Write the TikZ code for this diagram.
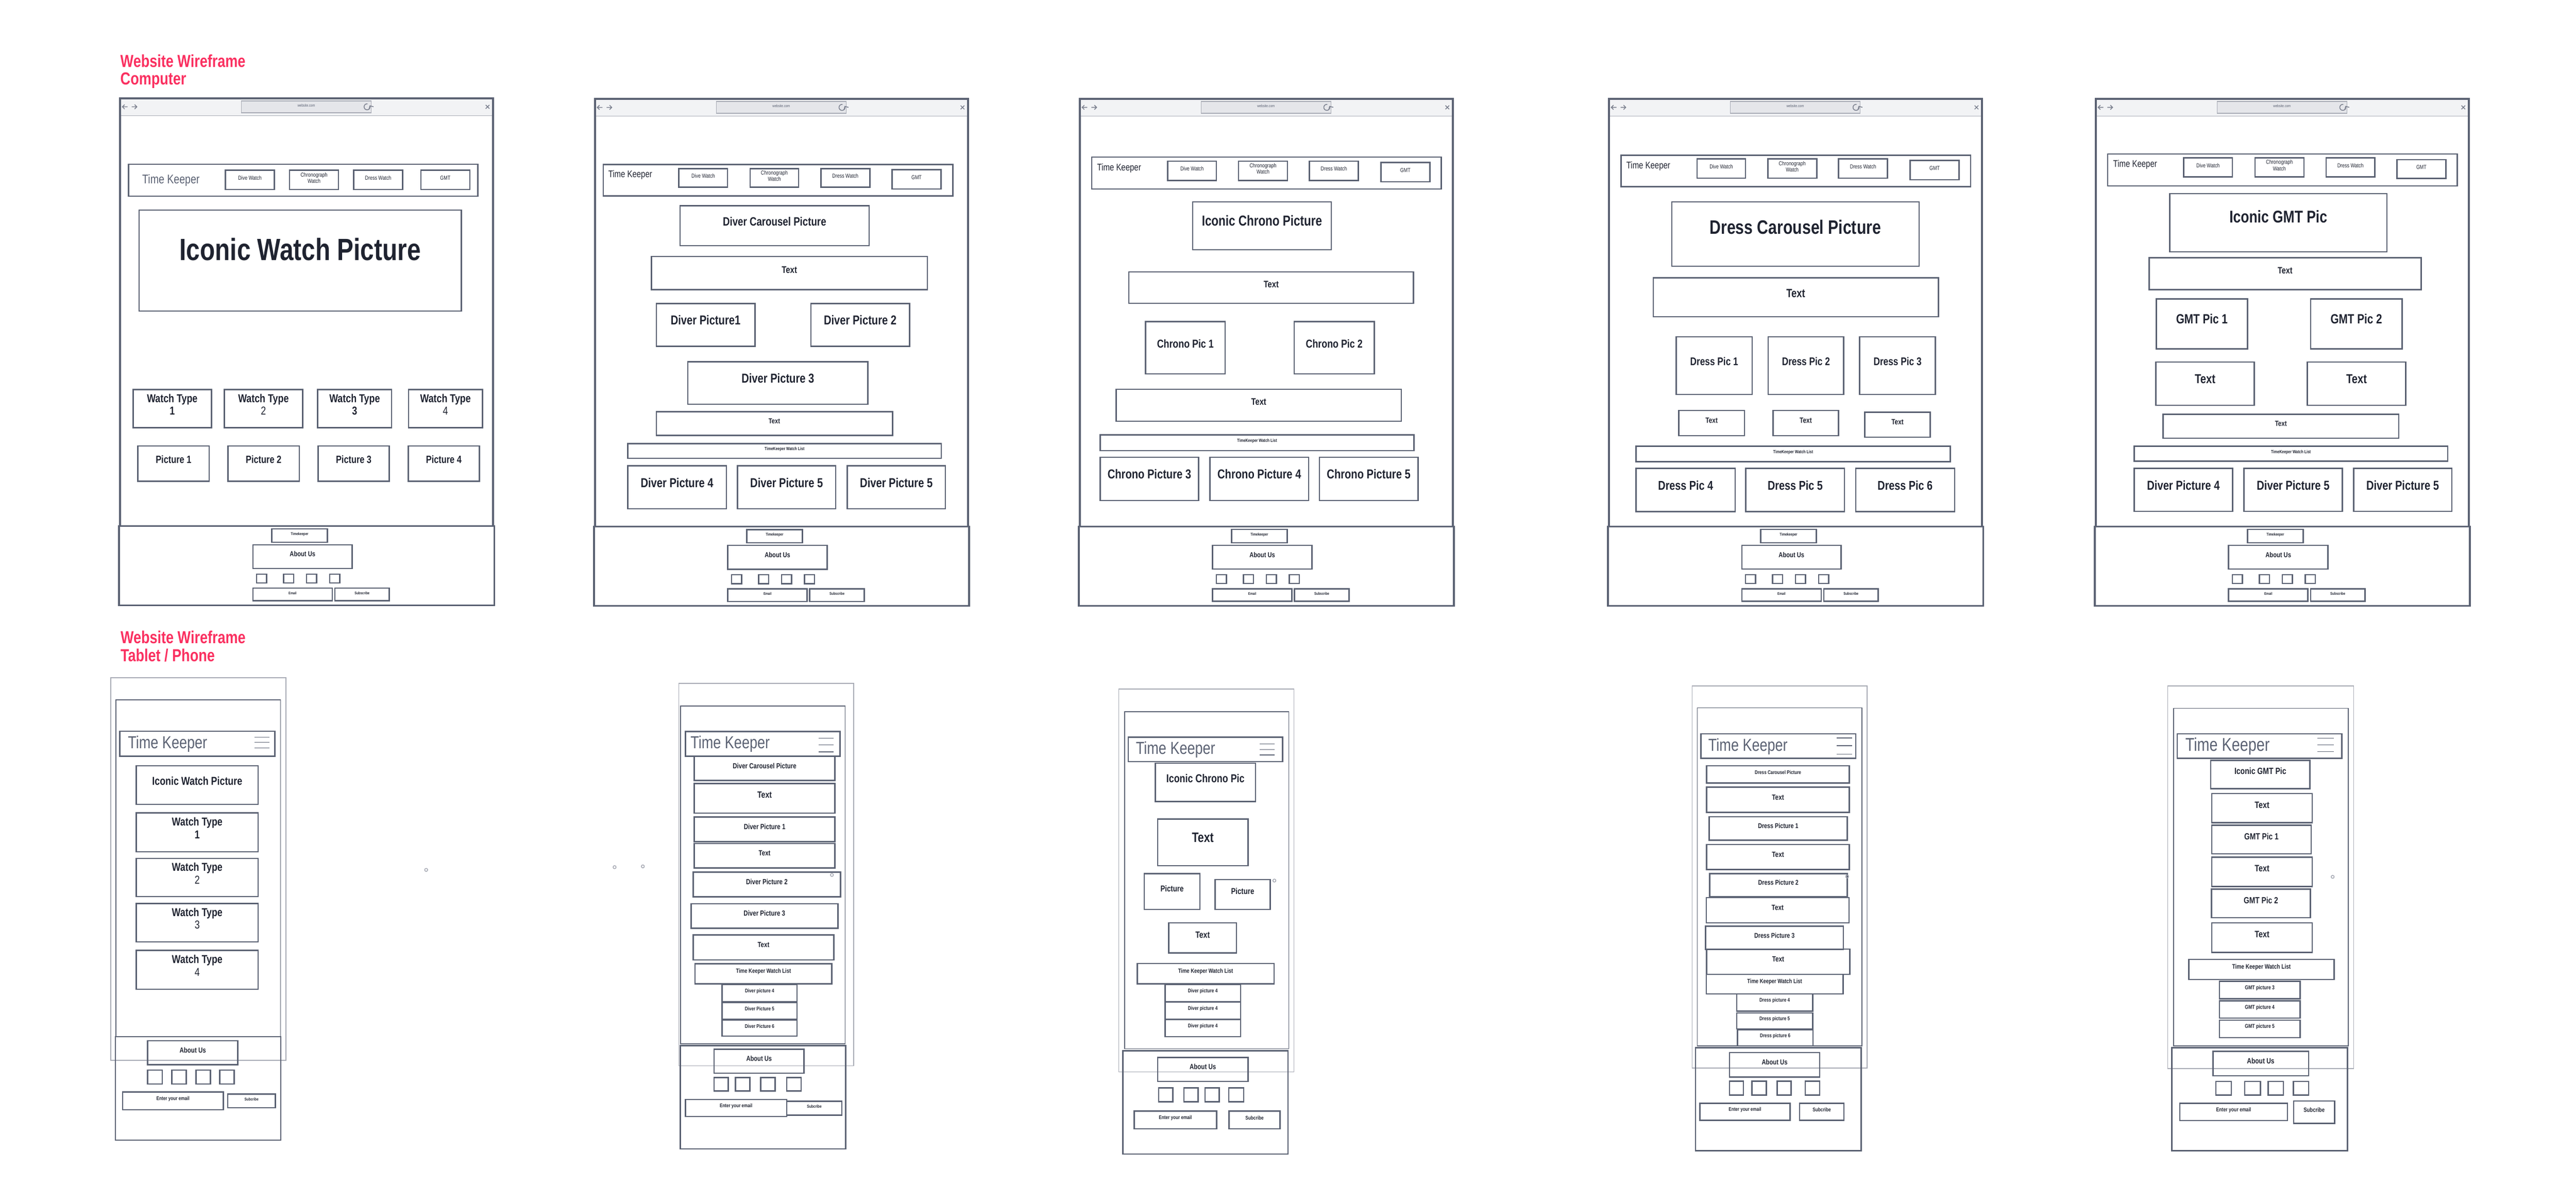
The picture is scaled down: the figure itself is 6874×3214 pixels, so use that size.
\documentclass[tikz,border=0pt]{standalone}
\usepackage{fontspec}
\setmainfont{Liberation Sans}[FakeStretch=0.8]
\usetikzlibrary{fit,arrows.meta}
\definecolor{stk}{HTML}{5B6273}
\definecolor{ink}{HTML}{1F2330}
\definecolor{ttl}{HTML}{FA3060}
\definecolor{barfill}{HTML}{F2F3F5}
\definecolor{addrfill}{HTML}{E5E6EA}
\definecolor{lite}{HTML}{A7AAB4}
\newdimen\pxu \pxu=0.098852mm
\newcommand\pf[1]{\fontsize{\the\dimexpr #1\pxu\relax}{\the\dimexpr #1\pxu*11/10\relax}\selectfont}
\newcommand\wbB[7]{\node[bx,font=\pf{#6}\bfseries,fit={(#2,#3)(#4,#5)}] (#1) {#7};}
\newcommand\wbR[7]{\node[bx,font=\pf{#6},fit={(#2,#3)(#4,#5)}] (#1) {#7};}
\newcommand\wbQ[5]{\node[bx,fit={(#2,#3)(#4,#5)}] (#1) {};}
\tikzset{
  bx/.style={draw=stk,line width=1pt,inner sep=0pt,outer sep=0pt,text=ink,align=center},
  frm/.style={draw=stk,line width=1.4pt},
  addr/.style={draw=lite,fill=addrfill,line width=0.5pt,inner sep=0pt,text=stk,font=\pf{10.6}},
  icn/.style={draw=stk!80,line width=0.6pt},
  ttlst/.style={anchor=base west,inner sep=0pt,text=ttl,font=\pf{47}\bfseries},
  tkd/.style={anchor=west,inner sep=0pt,text=ink,font=\pf{26}},
  tkp/.style={anchor=west,inner sep=0pt,text=stk,font=\pf{47}},
  hb/.style={draw=stk,line width=0.5pt},
  pout/.style={draw=lite,line width=0.6pt},
  pin/.style={draw=stk,line width=0.6pt},
  pfoot/.style={draw=stk,line width=1pt},
  dot/.style={draw=lite,line width=0.6pt},
  grp/.style 2 args={x=0.0098852cm,y=-0.0098852cm,
    shift={({0.0001148*#1*1cm},{-0.0001148*#2*1cm})}}
}
% desktop browser frame with footer
\newcommand\desk[2]{%
  \fill[barfill] (#1,264) rectangle (#1+1006,311);
  \draw[draw=lite,line width=0.5pt] (#1,311) -- (#1+1006,311);
  \node[addr,fit={(#1+327,271)(#1+677,303)}] (#2addr) {website.com};
  \draw[icn,-{Straight Barb[length=2pt]}] (#1+666,287) ++(80:0.8mm) arc (80:390:0.8mm);
  \draw[icn] (#1+20,287) -- (#1+6,287) (#1+12,281) -- (#1+6,287) -- (#1+12,293);
  \draw[icn] (#1+31,287) -- (#1+45,287) (#1+39,281) -- (#1+45,287) -- (#1+39,293);
  \draw[icn] (#1+986,282) -- (#1+996,292) (#1+996,282) -- (#1+986,292);
  \draw[frm] (#1,264) rectangle (#1+1006,1418);
  \draw[frm] (#1-3,1418) rectangle (#1+1009,1632);
  \wbB{#2tk}{#1+409}{1426}{#1+559}{1462}{10.7}{Timekeeper}
  \wbB{#2ab}{#1+358}{1469}{#1+626}{1533}{19.4}{About Us}
  \wbQ{#2s1}{#1+368}{1548}{#1+395}{1572}
  \wbQ{#2s2}{#1+441}{1548}{#1+468}{1572}
  \wbQ{#2s3}{#1+503}{1548}{#1+530}{1572}
  \wbQ{#2s4}{#1+565}{1548}{#1+592}{1572}
  \wbB{#2em}{#1+358}{1586}{#1+572}{1620}{10}{Email}
  \wbB{#2sb}{#1+579}{1586}{#1+726}{1620}{10.4}{Subscribe}
}
\begin{document}
\begin{tikzpicture}[x=0.01cm,y=-0.01cm]
\useasboundingbox (0,0) rectangle (6874,3214);

% ===== Title 1 + Desktop 1 =====
\begin{scope}[grp={250}{100}]
\node[ttlst] (t1a) at (321,180) {Website Wireframe};
\node[ttlst] (t1b) at (321,228) {Computer};
\desk{321}{d1}
\wbQ{d1nav}{344}{442}{1286}{528}
\node[tkd,text=stk,font=\pf{34}] (d1tkn) at (380,485) {Time Keeper};
\wbR{d1b1}{605}{458}{737}{510}{15.5}{Dive Watch}
\wbR{d1b2}{778}{458}{910}{510}{15.5}{Chronograph\\Watch}
\wbR{d1b3}{951}{458}{1083}{510}{15.5}{Dress Watch}
\wbR{d1b4}{1132}{458}{1264}{510}{15.5}{GMT}
\wbB{d1ic}{372}{566}{1241}{838}{83}{Iconic Watch Picture}
\wbB{d1w1}{356}{1050}{567}{1153}{31}{Watch Type\\1}
\wbB{d1w2}{602}{1050}{813}{1153}{31}{Watch Type\\{\mdseries 2}}
\wbB{d1w3}{854}{1050}{1053}{1153}{31}{Watch Type\\3}
\wbB{d1w4}{1099}{1050}{1298}{1153}{31}{Watch Type\\{\mdseries 4}}
\wbB{d1p1}{369}{1202}{561}{1297}{28.4}{Picture 1}
\wbB{d1p2}{612}{1202}{804}{1297}{28.4}{Picture 2}
\wbB{d1p3}{855}{1202}{1047}{1297}{28.4}{Picture 3}
\wbB{d1p4}{1098}{1202}{1290}{1297}{28.4}{Picture 4}
\end{scope}

% ===== Desktop 2 =====
\begin{scope}[grp={1550}{230}]
\desk{1586}{d2}
\wbQ{d2nav}{1608}{441}{2551}{526}
\node[tkd] (d2tkn) at (1621,469) {Time Keeper};
\wbR{d2b1}{1812}{452}{1943}{502}{15.5}{Dive Watch}
\wbR{d2b2}{2004}{452}{2135}{502}{15.5}{Chronograph\\Watch}
\wbR{d2b3}{2195}{452}{2327}{502}{15.5}{Dress Watch}
\wbR{d2b4}{2387}{455}{2519}{507}{15.5}{GMT}
\wbB{d2car}{1815}{552}{2325}{660}{32.5}{Diver Carousel Picture}
\wbB{d2t1}{1738}{689}{2482}{779}{26}{Text}
\wbB{d2p1}{1751}{816}{2017}{932}{35}{Diver Picture1}
\wbB{d2p2}{2168}{816}{2434}{932}{35}{Diver Picture 2}
\wbB{d2p3}{1836}{973}{2322}{1088}{35}{Diver Picture 3}
\wbB{d2t2}{1751}{1108}{2388}{1172}{19.4}{Text}
\wbB{d2wl}{1674}{1194}{2520}{1234}{12.2}{TimeKeeper Watch List}
\wbB{d2p4}{1674}{1254}{1940}{1370}{35}{Diver Picture 4}
\wbB{d2p5}{1970}{1254}{2235}{1370}{35}{Diver Picture 5}
\wbB{d2p6}{2266}{1254}{2531}{1370}{35}{Diver Picture 5}
\end{scope}

% ===== Desktop 3 =====
\begin{scope}[grp={2650}{220}]
\desk{2880}{d3}
\wbQ{d3nav}{2912}{421}{3855}{507}
\node[tkd] (d3tkn) at (2926,451) {Time Keeper};
\wbR{d3b1}{3117}{432}{3248}{484}{15.5}{Dive Watch}
\wbR{d3b2}{3308}{432}{3440}{484}{15.5}{Chronograph\\Watch}
\wbR{d3b3}{3499}{432}{3631}{484}{15.5}{Dress Watch}
\wbR{d3b4}{3692}{436}{3824}{488}{15.5}{GMT}
\wbB{d3ic}{3184}{542}{3558}{671}{39}{Iconic Chrono Picture}
\wbB{d3t1}{3012}{731}{3780}{816}{25.6}{Text}
\wbB{d3p1}{3057}{865}{3272}{1006}{31}{Chrono Pic 1}
\wbB{d3p2}{3458}{865}{3674}{1006}{31}{Chrono Pic 2}
\wbB{d3t2}{2978}{1048}{3747}{1134}{25.6}{Text}
\wbB{d3wl}{2935}{1171}{3781}{1213}{12.2}{TimeKeeper Watch List}
\wbB{d3p3}{2935}{1231}{3200}{1348}{35}{Chrono Picture 3}
\wbB{d3p4}{3231}{1231}{3497}{1348}{35}{Chrono Picture 4}
\wbB{d3p5}{3526}{1231}{3792}{1348}{35}{Chrono Picture 5}
\end{scope}

% ===== Desktop 4 =====
\begin{scope}[grp={4060}{220}]
\desk{4290}{d4}
\wbQ{d4nav}{4322}{416}{5265}{501}
\node[tkd] (d4tkn) at (4336,445) {Time Keeper};
\wbR{d4b1}{4527}{426}{4658}{478}{15.5}{Dive Watch}
\wbR{d4b2}{4718}{426}{4850}{478}{15.5}{Chronograph\\Watch}
\wbR{d4b3}{4909}{426}{5041}{478}{15.5}{Dress Watch}
\wbR{d4b4}{5102}{430}{5234}{482}{15.5}{GMT}
\wbB{d4car}{4459}{542}{5126}{716}{52.5}{Dress Carousel Picture}
\wbB{d4t1}{4409}{747}{5178}{852}{32}{Text}
\wbB{d4p1}{4471}{906}{4676}{1062}{30}{Dress Pic 1}
\wbB{d4p2}{4719}{906}{4923}{1062}{30}{Dress Pic 2}
\wbB{d4p3}{4966}{906}{5170}{1062}{30}{Dress Pic 3}
\wbB{d4t2}{4478}{1105}{4655}{1173}{20.6}{Text}
\wbB{d4t3}{4732}{1105}{4909}{1173}{20.6}{Text}
\wbB{d4t4}{4980}{1110}{5156}{1177}{20.6}{Text}
\wbB{d4wl}{4363}{1201}{5210}{1243}{12.2}{TimeKeeper Watch List}
\wbB{d4p4}{4363}{1261}{4630}{1378}{34.4}{Dress Pic 4}
\wbB{d4p5}{4659}{1261}{4925}{1378}{34.4}{Dress Pic 5}
\wbB{d4p6}{4955}{1261}{5222}{1378}{34.4}{Dress Pic 6}
\end{scope}

% ===== Desktop 5 =====
\begin{scope}[grp={5360}{220}]
\desk{5587}{d5}
\wbQ{d5nav}{5619}{413}{6562}{499}
\node[tkd] (d5tkn) at (5633,442) {Time Keeper};
\wbR{d5b1}{5824}{423}{5955}{475}{15.5}{Dive Watch}
\wbR{d5b2}{6016}{423}{6148}{475}{15.5}{Chronograph\\Watch}
\wbR{d5b3}{6208}{423}{6339}{475}{15.5}{Dress Watch}
\wbR{d5b4}{6399}{428}{6531}{479}{15.5}{GMT}
\wbB{d5ic}{5786}{520}{6372}{677}{46}{Iconic GMT Pic}
\wbB{d5t1}{5731}{693}{6464}{779}{25}{Text}
\wbB{d5p1}{5750}{804}{5996}{939}{36}{GMT Pic 1}
\wbB{d5p2}{6166}{804}{6413}{939}{36}{GMT Pic 2}
\wbB{d5t2}{5749}{974}{6014}{1091}{35}{Text}
\wbB{d5t3}{6157}{974}{6423}{1091}{35}{Text}
\wbB{d5t4}{5768}{1115}{6404}{1180}{20}{Text}
\wbB{d5wl}{5690}{1201}{6536}{1242}{12.2}{TimeKeeper Watch List}
\wbB{d5p4}{5690}{1261}{5956}{1377}{35}{Diver Picture 4}
\wbB{d5p5}{5986}{1261}{6252}{1377}{35}{Diver Picture 5}
\wbB{d5p6}{6282}{1261}{6547}{1377}{35}{Diver Picture 5}
\end{scope}

% ===== Title 2 + Phone 1 =====
\begin{scope}[grp={200}{1650}]
\node[ttlst] (t2a) at (322,1716) {Website Wireframe};
\node[ttlst] (t2b) at (322,1764) {Tablet / Phone};
\draw[pout] (296,1808) rectangle (769,2841);
\draw[pin] (310,1868) rectangle (754,2777);
\draw[pfoot] (309,2777) rectangle (755,3056);
\wbQ{m1nav}{321}{1953}{739}{2020}
\node[tkp] (m1tkn) at (342,1987) {Time Keeper};
\draw[hb] (684,1969) -- (724,1969) (684,1983) -- (724,1983) (684,1998) -- (724,1998);
\wbB{m1ic}{365}{2046}{694}{2150}{31}{Iconic Watch Picture}
\wbB{m1w1}{365}{2173}{694}{2278}{31}{Watch Type\\1}
\wbB{m1w2}{365}{2296}{694}{2399}{31}{Watch Type\\{\mdseries 2}}
\wbB{m1w3}{365}{2418}{694}{2521}{31}{Watch Type\\{\mdseries 3}}
\wbB{m1w4}{365}{2544}{694}{2649}{31}{Watch Type\\{\mdseries 4}}
\wbB{m1ab}{396}{2788}{639}{2853}{20}{About Us}
\wbQ{m1s1}{396}{2867}{435}{2905}
\wbQ{m1s2}{461}{2867}{500}{2905}
\wbQ{m1s3}{526}{2867}{565}{2905}
\wbQ{m1s4}{590}{2867}{629}{2905}
\wbB{m1em}{328}{2926}{600}{2974}{14.2}{Enter your email}
\wbB{m1sb}{612}{2932}{740}{2969}{11}{Subcribe}
\draw[dot] (1147,2327) circle[radius=0.4mm];
\end{scope}

% ===== Phone 2 =====
\begin{scope}[grp={1690}{1780}]
\draw[pout] (1810,1822) rectangle (2282,2854);
\draw[pin] (1815,1883) rectangle (2259,2795);
\draw[pfoot] (1814,2800) rectangle (2260,3078);
\wbQ{m2nav}{1828}{1952}{2245}{2019}
\node[tkp] (m2tkn) at (1841,1986) {Time Keeper};
\draw[hb] (2187,1970) -- (2228,1970) (2187,1988) -- (2228,1988) (2187,2007) -- (2228,2007);
\wbB{m2car}{1852}{2019}{2231}{2084}{20}{Diver Carousel Picture}
\wbB{m2t1}{1852}{2092}{2231}{2172}{24.5}{Text}
\wbB{m2p1}{1852}{2183}{2231}{2249}{20}{Diver Picture 1}
\wbB{m2t2}{1852}{2254}{2231}{2320}{20}{Text}
\wbB{m2p2}{1849}{2331}{2246}{2398}{20}{Diver Picture 2}
\wbB{m2p3}{1843}{2417}{2239}{2483}{20}{Diver Picture 3}
\wbB{m2t3}{1849}{2501}{2228}{2568}{20}{Text}
\wbB{m2wl}{1854}{2579}{2223}{2633}{16.4}{Time Keeper Watch List}
\wbB{m2p4}{1927}{2635}{2129}{2681}{14.2}{Diver picture 4}
\wbB{m2p5}{1927}{2683}{2129}{2728}{14.2}{Diver Picture 5}
\wbB{m2p6}{1927}{2730}{2129}{2774}{14.2}{Diver Picture 6}
\wbB{m2ab}{1905}{2809}{2148}{2874}{19.4}{About Us}
\wbQ{m2s1}{1905}{2886}{1943}{2922}
\wbQ{m2s2}{1963}{2886}{2002}{2922}
\wbQ{m2s3}{2031}{2886}{2070}{2922}
\wbQ{m2s4}{2101}{2886}{2140}{2922}
\wbB{m2em}{1828}{2945}{2101}{2991}{14}{Enter your email}
\wbB{m2sb}{2101}{2950}{2250}{2987}{11.5}{Subcribe}
\draw[dot] (1713,2316) circle[radius=0.4mm];
\draw[dot] (2223,2339) circle[radius=0.4mm];
\end{scope}

% ===== Phone 3 =====
\begin{scope}[grp={2860}{1800}]
\draw[pout] (2982,1837) rectangle (3455,2870);
\draw[pin] (2998,1898) rectangle (3441,2808);
\draw[pfoot] (2993,2813) rectangle (3439,3092);
\wbQ{m3nav}{3008}{1967}{3424}{2033}
\node[tkp] (m3tkn) at (3028,2001) {Time Keeper};
\draw[hb] (3362,1985) -- (3403,1985) (3362,2000) -- (3403,2000) (3362,2015) -- (3403,2015);
\wbB{m3ic}{3081}{2037}{3351}{2141}{31}{Iconic Chrono Pic}
\wbB{m3t1}{3087}{2188}{3331}{2314}{37}{Text}
\wbB{m3p1}{3051}{2335}{3201}{2432}{23}{Picture}
\wbB{m3p2}{3242}{2351}{3391}{2432}{23}{Picture}
\wbB{m3t2}{3117}{2468}{3300}{2549}{24.5}{Text}
\wbB{m3wl}{3032}{2578}{3401}{2633}{16.4}{Time Keeper Watch List}
\wbB{m3p4}{3107}{2635}{3311}{2681}{14.4}{Diver picture 4}
\wbB{m3p5}{3107}{2682}{3311}{2728}{14.4}{Diver picture 4}
\wbB{m3p6}{3107}{2729}{3311}{2775}{14.4}{Diver picture 4}
\wbB{m3ab}{3087}{2831}{3331}{2896}{20}{About Us}
\wbQ{m3s1}{3090}{2913}{3128}{2951}
\wbQ{m3s2}{3158}{2913}{3196}{2951}
\wbQ{m3s3}{3215}{2913}{3253}{2951}
\wbQ{m3s4}{3279}{2913}{3319}{2951}
\wbB{m3em}{3024}{2976}{3246}{3024}{14.2}{Enter your email}
\wbB{m3sb}{3280}{2976}{3417}{3024}{14.3}{Subcribe}
\draw[dot] (3402,2354) circle[radius=0.4mm];
\end{scope}

% ===== Phone 4 =====
\begin{scope}[grp={4390}{1800}]
\draw[pout] (4510,1829) rectangle (4982,2860);
\draw[pin] (4524,1888) rectangle (4968,2800);
\draw[pfoot] (4519,2805) rectangle (4966,3083);
\wbQ{m4nav}{4534}{1958}{4951}{2024}
\node[tkp] (m4tkn) at (4553,1992) {Time Keeper};
\draw[hb] (4900,1969) -- (4941,1969) (4900,1990) -- (4941,1990) (4900,2013) -- (4941,2013);
\wbB{m4car}{4549}{2044}{4934}{2091}{14.2}{Dress Carousel Picture}
\wbB{m4t1}{4549}{2102}{4934}{2170}{20.4}{Text}
\wbB{m4p1}{4556}{2182}{4928}{2245}{18.7}{Dress Picture 1}
\wbB{m4t2}{4549}{2257}{4934}{2324}{20.4}{Text}
\wbB{m4p2}{4557}{2335}{4928}{2398}{18.7}{Dress Picture 2}
\wbB{m4t3}{4548}{2400}{4933}{2468}{20.4}{Text}
\wbB{m4p3}{4546}{2477}{4918}{2540}{18.7}{Dress Picture 3}
\wbB{m4t4}{4549}{2539}{4935}{2607}{20.4}{Text}
\wbB{m4wl}{4548}{2607}{4917}{2660}{16.4}{Time Keeper Watch List}
\wbB{m4p4}{4630}{2660}{4835}{2706}{14.2}{Dress picture 4}
\wbB{m4p5}{4630}{2711}{4835}{2754}{14.2}{Dress picture 5}
\wbB{m4p6}{4632}{2757}{4836}{2800}{14.2}{Dress picture 6}
\wbB{m4ab}{4611}{2818}{4854}{2884}{19.6}{About Us}
\wbQ{m4s1}{4611}{2895}{4648}{2933}
\wbQ{m4s2}{4671}{2895}{4710}{2933}
\wbQ{m4s3}{4739}{2895}{4777}{2933}
\wbQ{m4s4}{4815}{2895}{4854}{2933}
\wbB{m4em}{4531}{2955}{4774}{3001}{14}{Enter your email}
\wbB{m4sb}{4800}{2955}{4919}{3001}{14.4}{Subcribe}
\draw[dot] (4928,2343) circle[radius=0.4mm];
\end{scope}

% ===== Phone 5 =====
\begin{scope}[grp={5650}{1790}]
\draw[pout] (5777,1829) rectangle (6279,2861);
\draw[pin] (5793,1889) rectangle (6264,2800);
\draw[pfoot] (5788,2805) rectangle (6262,3083);
\wbQ{m5nav}{5803}{1958}{6247}{2024}
\node[tkp,font=\pf{50}] (m5tkn) at (5824,1992) {Time Keeper};
\draw[hb] (6181,1970) -- (6225,1970) (6181,1988) -- (6225,1988) (6181,2006) -- (6225,2006);
\wbB{m5ic}{5893}{2030}{6161}{2106}{24.4}{Iconic GMT Pic}
\wbB{m5t1}{5896}{2119}{6167}{2198}{25}{Text}
\wbB{m5p1}{5896}{2205}{6164}{2282}{24}{GMT Pic 1}
\wbB{m5t2}{5896}{2291}{6167}{2370}{25}{Text}
\wbB{m5p2}{5895}{2377}{6162}{2454}{24}{GMT Pic 2}
\wbB{m5t3}{5896}{2468}{6167}{2548}{25}{Text}
\wbB{m5wl}{5834}{2567}{6226}{2621}{17.5}{Time Keeper Watch List}
\wbB{m5p3}{5917}{2626}{6134}{2673}{15}{GMT picture 3}
\wbB{m5p4}{5917}{2679}{6134}{2725}{15}{GMT picture 4}
\wbB{m5p5}{5917}{2731}{6134}{2778}{15}{GMT picture 5}
\wbB{m5ab}{5899}{2815}{6157}{2881}{20.8}{About Us}
\wbQ{m5s1}{5907}{2896}{5949}{2933}
\wbQ{m5s2}{5985}{2896}{6027}{2933}
\wbQ{m5s3}{6048}{2896}{6089}{2933}
\wbQ{m5s4}{6116}{2896}{6157}{2933}
\wbB{m5em}{5810}{2955}{6100}{3002}{15}{Enter your email}
\wbB{m5sb}{6117}{2949}{6227}{3009}{16.6}{Subcribe}
\draw[dot] (6222,2344) circle[radius=0.4mm];
\end{scope}

% stray dot outside the zoomed regions
\draw[dot] (1640,2315) circle[radius=0.4mm];
\end{tikzpicture}
\end{document}
